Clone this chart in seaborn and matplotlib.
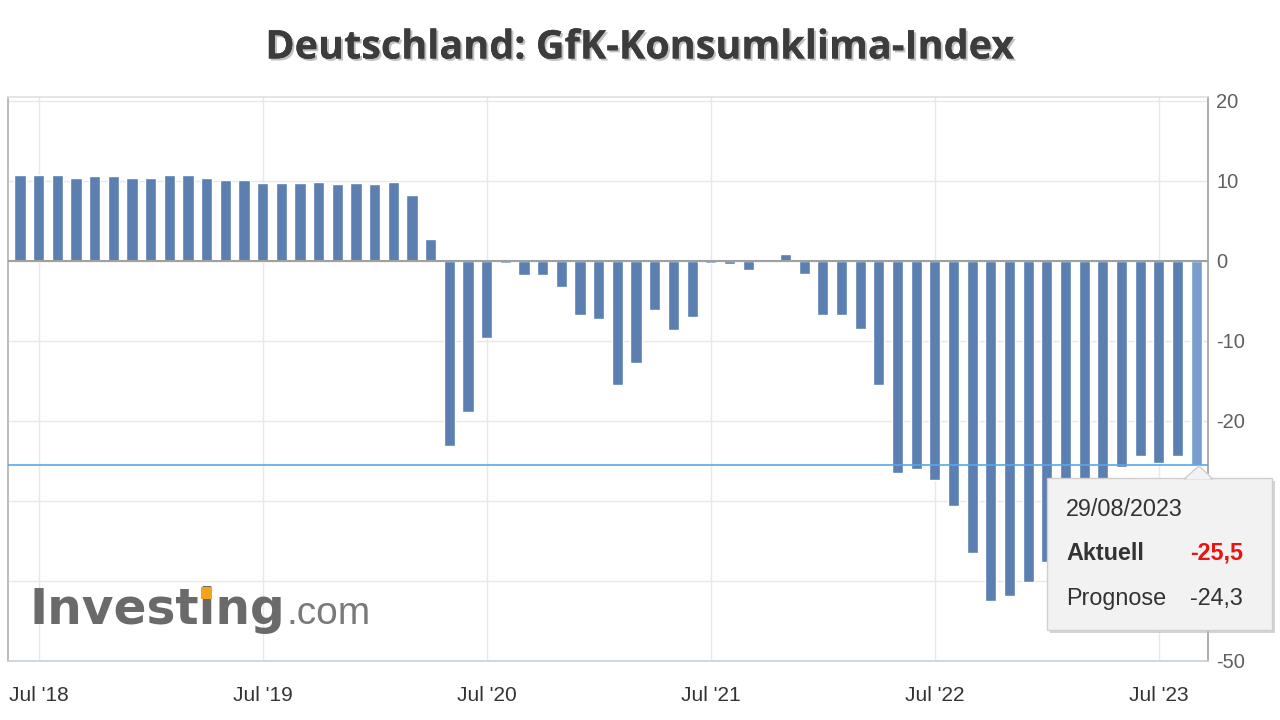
import pandas as pd
import matplotlib.pyplot as plt
import matplotlib.patheffects as pe
from matplotlib.patches import FancyBboxPatch, Polygon, Rectangle
import seaborn as sns

sns.set_theme(style="white")
plt.rcParams['font.family'] = ['Liberation Sans', 'DejaVu Sans']

# GfK consumer climate, monthly, Jun 2018 .. Sep 2023
months = [str(p) for p in pd.period_range('2018-06', '2023-09', freq='M')]
values = [
    10.7, 10.7, 10.7, 10.4, 10.6, 10.6, 10.4,                          # 2018 Jun-Dec
    10.4, 10.8, 10.7, 10.4, 10.1, 10.1, 9.8, 9.7, 9.7, 9.9, 9.6, 9.7,  # 2019
    9.6, 9.9, 8.3, 2.7, -23.1, -18.9, -9.6, -0.3, -1.8, -1.7, -3.2, -6.8,  # 2020
    -7.3, -15.5, -12.7, -6.1, -8.6, -7.0, -0.3, -0.4, -1.1, 0.3, 0.9, -1.6,  # 2021
    -6.8, -6.7, -8.5, -15.5, -26.5, -26.0, -27.4, -30.6, -36.5, -42.5,
    -41.9, -40.1,                                                       # 2022
    -37.6, -33.8, -30.6, -29.5, -25.8, -24.4, -25.2, -24.4, -25.5,      # 2023 Jan-Sep
]
tick_months = ['2018-07', '2019-07', '2020-07', '2021-07', '2022-07', '2023-07']
tick_labels = ["Jul '18", "Jul '19", "Jul '20", "Jul '21", "Jul '22", "Jul '23"]
y_ticks = [20, 10, 0, -10, -20, -30, -40, -50]
# -30 and -40 sit under the tooltip in the original
y_tick_labels = ['20', '10', '0', '-10', '-20', '', '', '-50']
tooltip_date = '29/08/2023'
actual = -25.5
forecast = -24.3

df = pd.DataFrame({'month': months, 'value': values})
bar_color = '#5a7fb0'
palette = [bar_color] * (len(months) - 1) + ['#779dcc']

W, H = 1280, 720
fig = plt.figure(figsize=(W / 100, H / 100), dpi=100)
ax = fig.add_axes([8 / W, 1 - 661 / H, 1200 / W, (661 - 97) / H])


def fx(x):
    return x / W


def fy(y):
    return 1 - y / H


sns.barplot(data=df, x='month', y='value', hue='month', palette=palette,
            legend=False, width=0.6, saturation=1, ax=ax, zorder=3)

ax.set_xlim(-0.64, len(months) - 1 + 0.63)
ax.set_ylim(-50, 20.5)

# grid
for m in tick_months:
    ax.axvline(months.index(m), color='#e8e8e8', lw=1, zorder=0)
for v in y_ticks:
    ax.axhline(v, color='#e8e8e8', lw=1, zorder=0)
ax.axhline(0, color='#a0a0a0', lw=1.5, zorder=4)
ax.axhline(actual, color='#58a8ea', lw=1.2, zorder=5)

ax.set_xticks([months.index(m) for m in tick_months])
ax.set_xticklabels(tick_labels, fontsize=15, color='#333333')
ax.yaxis.tick_right()
ax.set_yticks(y_ticks)
ax.set_yticklabels(y_tick_labels, fontsize=14.5, color='#606060')
ax.tick_params(axis='x', length=0, pad=18)
ax.tick_params(axis='y', length=0, pad=6)
ax.set_xlabel('')
ax.set_ylabel('')

for side, col in [('left', '#b0b0b0'), ('bottom', '#c5d0dc'),
                  ('right', '#a0a0a0'), ('top', '#e0e0e0')]:
    ax.spines[side].set_visible(True)
    ax.spines[side].set_color(col)
    ax.spines[side].set_linewidth(1.2)

# title
fig.text(0.5, fy(48), 'Deutschland: GfK-Konsumklima-Index', ha='center', va='center',
         fontsize=28.5, fontweight='bold', color='#3c3c3c',
         family=['Open Sans', 'DejaVu Sans'],
         path_effects=[pe.withSimplePatchShadow(offset=(1.5, -1.5), shadow_rgbFace='#999999',
                                                alpha=0.6), pe.Normal()])

# Investing.com logo
logo_kw = dict(ha='left', va='baseline', fontsize=35, fontweight='bold',
               color='#6a6a6a', family=['DejaVu Sans'])
fig.text(fx(30), fy(624), 'Investing', **logo_kw)
fig.text(fx(287), fy(624), '.com', ha='left', va='baseline', fontsize=28,
         color='#7a7a7a', family=['Liberation Sans'])

# orange dot on the "i": measure where the glyph sits
renderer = fig.canvas.get_renderer()
probe_a = fig.text(0, 0, 'Invest', **logo_kw)
probe_b = fig.text(0, 0, 'Investi', **logo_kw)
wa = probe_a.get_window_extent(renderer).width
wb = probe_b.get_window_extent(renderer).width
probe_a.remove()
probe_b.remove()
dot_cx = 30 + (wa + wb) / 2 - 2
fig.add_artist(Rectangle((fx(dot_cx - 5.5), fy(599)), 11 / W, 12 / H,
                         transform=fig.transFigure, facecolor='#f5a31a',
                         edgecolor='none', zorder=6))

# tooltip
shadow = FancyBboxPatch((fx(1050), fy(633)), fx(225), 152 / H,
                        boxstyle='square,pad=0', transform=fig.transFigure,
                        facecolor='#b8b8b8', edgecolor='none', alpha=0.6)
box = FancyBboxPatch((fx(1047), fy(630)), fx(225), 152 / H,
                     boxstyle='square,pad=0', transform=fig.transFigure,
                     facecolor='#f2f2f2', edgecolor='#cfcfcf', lw=1)
arrow = Polygon([(fx(1184), fy(479)), (fx(1199), fy(466)), (fx(1213), fy(479))],
                closed=True, transform=fig.transFigure,
                facecolor='#f2f2f2', edgecolor='#cfcfcf', lw=1)
fig.add_artist(shadow)
fig.add_artist(box)
fig.add_artist(arrow)
fig.add_artist(Polygon([(fx(1186), fy(479.5)), (fx(1211), fy(479.5)), (fx(1199), fy(468))],
                       closed=True, transform=fig.transFigure,
                       facecolor='#f2f2f2', edgecolor='none'))

fig.text(fx(1066), fy(510), tooltip_date, ha='left', va='center', fontsize=16.8, color='#333333')
fig.text(fx(1066), fy(553), 'Aktuell', ha='left', va='center', fontsize=16.8,
         fontweight='bold', color='#333333')
fig.text(fx(1190), fy(553), f'{actual:.1f}'.replace('.', ','), ha='left', va='center',
         fontsize=16.8, fontweight='bold', color='#ee1111')
fig.text(fx(1066), fy(598), 'Prognose', ha='left', va='center', fontsize=16.8, color='#333333')
fig.text(fx(1190), fy(598), f'{forecast:.1f}'.replace('.', ','), ha='left', va='center',
         fontsize=16.8, color='#333333')

fig.savefig('out.png', dpi=100, facecolor='white')
